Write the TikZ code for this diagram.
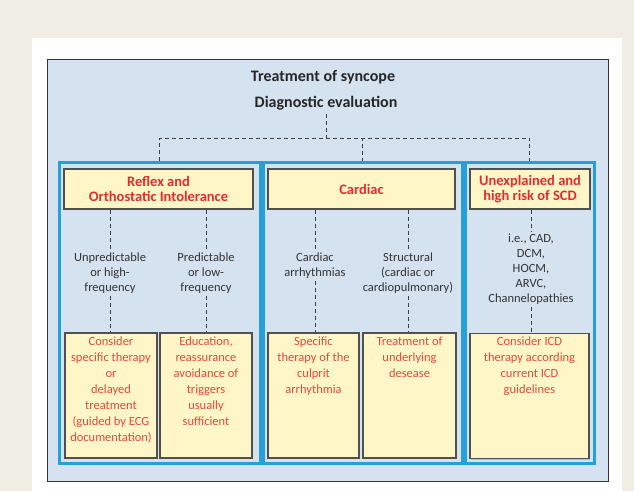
\documentclass[tikz,border=0pt]{standalone}
\usepackage{xcolor}
\usepackage{fontspec}
\usepackage{tikz}
\usetikzlibrary{shadows}
\setmainfont{Carlito}
\definecolor{bgbeige}{RGB}{239, 237, 228}
\definecolor{panelblue}{RGB}{213, 226, 240}
\definecolor{framecyan}{RGB}{38, 160, 218}
\definecolor{boxyellow}{RGB}{255, 246, 200}
\definecolor{hdrred}{RGB}{226, 45, 45}
\definecolor{txtred}{RGB}{228, 72, 60}
\definecolor{edgegray}{RGB}{80, 80, 80}

\begin{document}
\begin{tikzpicture}[
    x=1pt, y=-1pt,
    title/.style={font=\fontsize{16}{18}\selectfont\bfseries, text=black!85},
    frame/.style={rectangle, draw=framecyan, line width=3pt, inner sep=0pt},
    header/.style={rectangle, draw=edgegray, line width=1.2pt, fill=boxyellow, align=center, minimum height=40pt, inner sep=2pt, text=hdrred, font=\fontsize{14.5}{15}\selectfont\bfseries, drop shadow={shadow xshift=1pt, shadow yshift=-1pt, opacity=0.35}},
    choice/.style={align=center, inner sep=2pt, text=black!80, font=\fontsize{12.5}{15}\selectfont},
    result/.style={rectangle, draw=edgegray, line width=1.2pt, fill=boxyellow, minimum height=125pt, drop shadow={shadow xshift=1pt, shadow yshift=-1pt, opacity=0.35}},
    resulttext/.style={align=center, inner sep=4pt, anchor=north, text=txtred, font=\fontsize{12.5}{16}\selectfont},
    link/.style={draw=black!75, line width=0.9pt, dash pattern=on 4pt off 3pt}
]
    \useasboundingbox (0,0) rectangle (634,491);
    % backdrop
    \fill[bgbeige] (0,0) rectangle (634,491);
    \fill[white] (32,38) rectangle (622,491);
    \filldraw[fill=panelblue, draw=black!80, line width=1pt] (47,59) rectangle (608,481);

    % Top
    \node[title] (ttl) at (323, 77) {Treatment of syncope};
    \node[title] (diag) at (326, 103) {Diagnostic evaluation};
    \coordinate (jn) at (326, 138);

    % Frames
    \node[frame, minimum width=200.5pt, minimum height=301pt] (fr1) at (159.75, 313) {};
    \node[frame, minimum width=199pt, minimum height=301pt] (fr2) at (362.5, 313) {};
    \node[frame, minimum width=129.5pt, minimum height=301pt] (fr3) at (529.75, 313) {};

    % Reflex column
    \node[header, minimum width=189pt] (hdr1) at (158.5, 189) {Reflex and\\Orthostatic Intolerance};
    \node[choice] (l1) at (110, 273) {Unpredictable\\or high-\\frequency};
    \node[choice] (l2) at (206, 273) {Predictable\\or low-\\frequency};
    \node[result, minimum width=92pt] (b1) at (111, 395.5) {};
    \node[result, minimum width=92pt] (b2) at (206, 395.5) {};
    \node[resulttext] (t1) at (b1.north) {Consider\\specific therapy\\or\\delayed\\treatment\\(guided by ECG\\documentation)};
    \node[resulttext] (t2) at (b2.north) {Education,\\reassurance\\avoidance of\\triggers\\usually\\sufficient};

    % Cardiac column
    \node[header, minimum width=187pt] (hdr2) at (361.5, 189) {Cardiac};
    \node[choice] (l3) at (315, 265.5) {Cardiac\\arrhythmias};
    \node[choice] (l4) at (408, 273) {Structural\\(cardiac or\\cardiopulmonary)};
    \node[result, minimum width=91pt] (b3) at (313.5, 395.5) {};
    \node[result, minimum width=93pt] (b4) at (409.5, 395.5) {};
    \node[resulttext] (t3) at (b3.north) {Specific\\therapy of the\\culprit\\arrhythmia};
    \node[resulttext] (t4) at (b4.north) {Treatment of\\underlying\\desease};

    % SCD column
    \node[header, minimum width=120pt] (hdr3) at (530, 189) {Unexplained and\\high risk of SCD};
    \node[choice] (l5) at (531, 269) {i.e., CAD,\\DCM,\\HOCM,\\ARVC,\\Channelopathies};
    \node[result, minimum width=119pt] (b5) at (529.5, 396) {};
    \node[resulttext] (t5) at (b5.north) {Consider ICD\\therapy according\\current ICD\\guidelines};

    % Connectors
    \draw[link] (diag) -- (jn);
    \draw[link] (fr1.north) |- (jn) -| (fr3.north);
    \draw[link] (jn) -| (fr2.north);

    \draw[link] (hdr1.south -| l1) -- (l1);
    \draw[link] (l1) -- (l1 |- b1.north);
    \draw[link] (hdr1.south -| l2) -- (l2);
    \draw[link] (l2) -- (l2 |- b2.north);

    \draw[link] (hdr2.south -| l3) -- (l3);
    \draw[link] (l3) -- (l3 |- b3.north);
    \draw[link] (hdr2.south -| l4) -- (l4);
    \draw[link] (l4) -- (l4 |- b4.north);

    \draw[link] (hdr3.south -| l5) -- (l5);
    \draw[link] (l5) -- (l5 |- b5.north);

\end{tikzpicture}
\end{document}
